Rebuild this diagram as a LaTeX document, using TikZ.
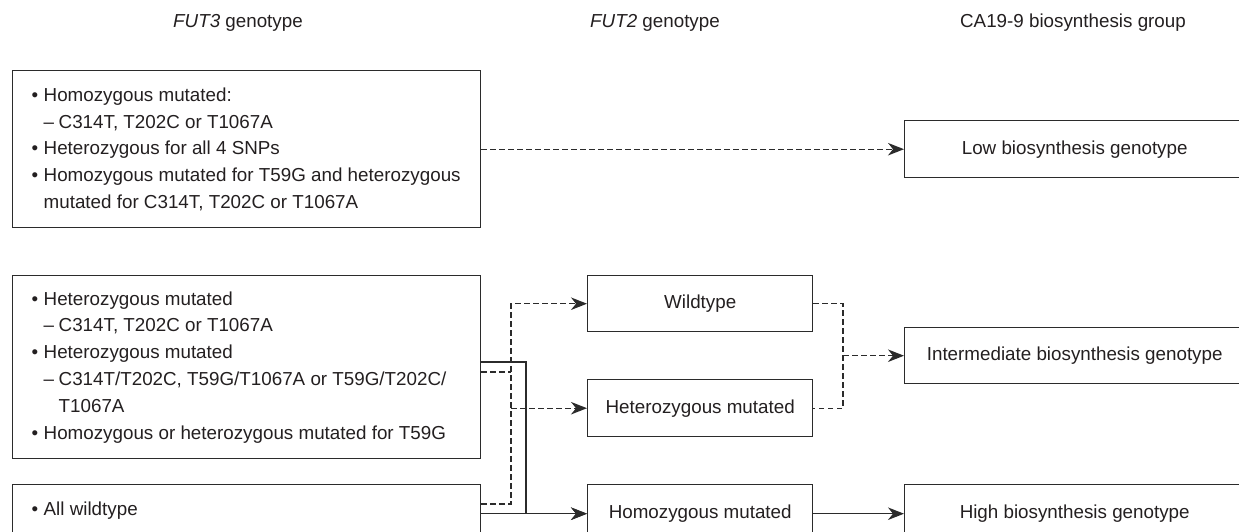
\documentclass[tikz,border=0pt]{standalone}
\usepackage{fontspec}
\setmainfont{Liberation Sans}
\usetikzlibrary{arrows.meta,calc}
\definecolor{lc}{HTML}{2B2B2B}
\definecolor{tc}{HTML}{231F20}
\newcommand\bitem[1]{\makebox[12pt][l]{\textbullet}#1}
\newcommand\ditem[1]{\hspace*{12pt}\makebox[15pt][l]{–}#1}
\newcommand\citem[1]{\hspace*{12pt}#1}
\newcommand\cditem[1]{\hspace*{27pt}#1}
\begin{document}
\begin{tikzpicture}[x=1pt,y=-1pt,
  box/.style={draw=lc, line width=1.4pt, rectangle, inner sep=0pt, anchor=north west,
    text=tc, font=\fontsize{18.8}{26.8}\selectfont},
  hdr/.style={text=tc, font=\fontsize{18.8}{22}\selectfont, anchor=base, inner sep=0pt},
  sl/.style={draw=lc, line width=1.4pt},
  dl/.style={draw=lc, line width=1.4pt, dash pattern=on 5.5pt off 3.5pt},
  arr/.style={-{Stealth[length=16pt,width=12.5pt,inset=5pt]}}]
\useasboundingbox (0,0) rectangle (1239,531);
\clip (0,0) rectangle (1239,531);

% headers
\node[hdr] (h1) at (238,27) {\textit{FUT3} genotype};
\node[hdr] (h2) at (655,27) {\textit{FUT2} genotype};
\node[hdr] (h3) at (1073,27) {CA19-9 biosynthesis group};

% FUT3 boxes
\node[box, minimum width=468pt, minimum height=157pt] (f1) at (12,70)
  {\parbox{430pt}{\raggedright
   \bitem{Homozygous mutated:}\\
   \ditem{C314T, T202C or T1067A}\\
   \bitem{Heterozygous for all 4 SNPs}\\
   \bitem{Homozygous mutated for T59G and heterozygous}\\
   \citem{mutated for C314T, T202C or T1067A}}};
\node[box, minimum width=468pt, minimum height=183pt] (f2) at (12,275)
  {\parbox{430pt}{\raggedright
   \bitem{Heterozygous mutated}\\
   \ditem{C314T, T202C or T1067A}\\
   \bitem{Heterozygous mutated}\\
   \ditem{C314T/T202C, T59G/T1067A or T59G/T202C/}\\
   \cditem{T1067A}\\
   \bitem{Homozygous or heterozygous mutated for T59G}}};
\node[box, minimum width=468pt, minimum height=52pt] (f3) at (12,484)
  {\parbox{430pt}{\raggedright\bitem{All wildtype}}};

% FUT2 boxes
\node[box, minimum width=225pt, minimum height=56pt] (wt) at (587,275) {Wildtype};
\node[box, minimum width=225pt, minimum height=57pt] (he) at (587,379) {Heterozygous mutated};
\node[box, minimum width=225pt, minimum height=58pt] (ho) at (587,484) {Homozygous mutated};

% result boxes
\node[box, minimum width=340pt, minimum height=57pt] (low) at (904,120) {Low biosynthesis genotype};
\node[box, minimum width=340pt, minimum height=56pt] (int) at (904,327) {Intermediate biosynthesis genotype};
\node[box, minimum width=340pt, minimum height=58pt] (high) at (904,484) {High biosynthesis genotype};

% junction coordinates
\coordinate (jd) at (511,0);
\coordinate (js) at (526,0);
\coordinate (jr) at (843,0);
\coordinate (f2d) at ($(f2.north east)+(0,97)$);
\coordinate (f2s) at ($(f2.north east)+(0,87)$);
\coordinate (f3d) at ($(f3.north east)+(0,20)$);

% connectors
\draw[dl,arr] (f1.east) -- (low.west);

\draw[dl] (f2d) -- (f2d -| jd);
\draw[dl,arr] (f3d) -| (jd |- wt.west) -- (wt.west);
\draw[dl,arr] (jd |- he.west) -- (he.west);

\draw[sl,arr] (f2s) -| (js |- ho.west) -- (ho.west);
\draw[sl,arr] (f3.north east |- ho.west) -- (ho.west);

\draw[dl] (wt.east) -| (jr |- he.east) -- (he.east);
\draw[dl,arr] (jr |- int.west) -- (int.west);

\draw[sl,arr] (ho.east) -- (high.west);
\end{tikzpicture}
\end{document}
